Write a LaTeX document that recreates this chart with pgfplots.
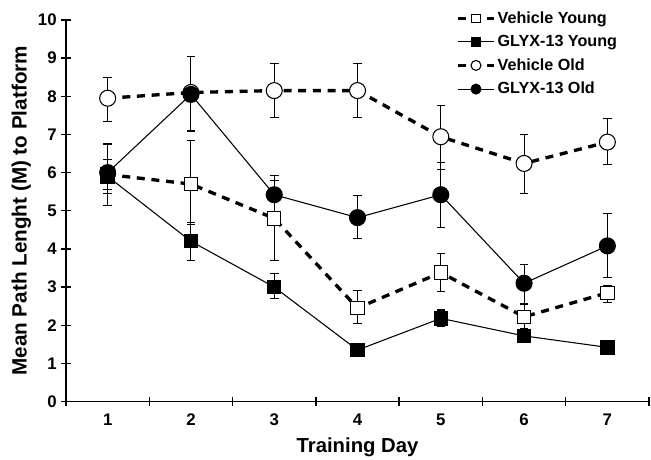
\documentclass[border=0pt]{standalone}
\usepackage{fontspec}
\setmainfont{Liberation Sans}
\usepackage{pgfplots}
\pgfplotsset{compat=1.18}
\usepackage{pgfplotstable}
\pgfplotstableread{
x y ep em
1 5.95 0.40 0.40
2 5.70 1.15 1.05
3 4.80 1.00 1.10
4 2.45 0.45 0.40
5 3.38 0.50 0.50
6 2.22 0.35 0.30
7 2.85 0.20 0.25
}\vehyoung
\pgfplotstableread{
x y ep em
1 5.90 0.45 0.45
2 4.20 0.50 0.50
3 3.00 0.35 0.30
4 1.35 0.05 0.05
5 2.18 0.22 0.22
6 1.72 0.18 0.18
7 1.42 0.05 0.05
}\glyxyoung
\pgfplotstableread{
x y ep em
1 7.95 0.55 0.60
2 8.10 0.95 1.00
3 8.15 0.70 0.70
4 8.15 0.70 0.70
5 6.94 0.82 0.85
6 6.24 0.76 0.78
7 6.80 0.62 0.58
}\vehold
\pgfplotstableread{
x y ep em
1 6.00 0.75 0.85
2 8.05 1.00 0.98
3 5.42 0.50 0.50
4 4.82 0.57 0.55
5 5.42 0.85 0.85
6 3.10 0.50 0.55
7 4.08 0.84 0.84
}\glyxold
\begin{document}
\begin{tikzpicture}
\begin{axis}[
  width=437pt, height=286pt, scale only axis,
  xmin=0.5, xmax=7.5, ymin=0, ymax=10,
  axis lines*=left,
  axis line style={line width=1pt},
  xtick={1,...,7},
  minor xtick={0.5,1.5,...,7.5},
  major x tick style={draw=none},
  minor tick length=7pt,
  ytick={0,1,...,10},
  major tick length=7pt,
  tick align=center,
  tick style={line width=1pt, black},
  ticklabel style={font=\fontsize{12.6}{14}\selectfont\bfseries},
  xticklabel style={yshift=-2pt},
  /pgf/number format/assume math mode=true,
  xlabel={\bfseries Training Day},
  ylabel={\bfseries Mean Path Lenght (M) to Platform},
  xlabel style={font=\fontsize{15.2}{17}\selectfont, at={(axis description cs:0.5,-0.119)}, anchor=center},
  ylabel style={font=\fontsize{15.5}{17}\selectfont, at={(axis description cs:-0.0765,0.5)}, anchor=center},
  clip=false,
  legend style={draw=none, fill=none, at={(0.669,1.028)}, anchor=north west,
    font=\fontsize{12.1}{14}\selectfont\bfseries, row sep=4.5pt, inner sep=0pt,
    legend cell align=left, nodes={inner sep=1.5pt}},
  legend image code/.code={
    \draw[mark repeat=2,mark phase=2, every mark/.append style={scale=0.62}] plot coordinates {(0pt,0pt) (13.5pt,0pt) (27pt,0pt)};
  },
  error bars/y dir=both, error bars/y explicit,
  error bars/error bar style={line width=0.8pt, black, solid},
  error bars/error mark options={rotate=90, mark size=3.2pt, line width=0.8pt, black, solid},
]
\addplot[black, line width=2.5pt, dash pattern=on 6pt off 5pt,
  mark=square*, mark size=5pt, mark options={solid, fill=white, line width=0.8pt}]
  table[x=x, y=y, y error plus=ep, y error minus=em] {\vehyoung};
\addlegendentry{Vehicle Young}
\addplot[black, line width=0.8pt,
  mark=square*, mark size=5pt, mark options={solid, fill=black, line width=0.8pt}]
  table[x=x, y=y, y error plus=ep, y error minus=em] {\glyxyoung};
\addlegendentry{GLYX-13 Young}
\addplot[black, line width=2.5pt, dash pattern=on 6pt off 5pt,
  mark=*, mark size=6pt, mark options={solid, fill=white, line width=0.8pt}]
  table[x=x, y=y, y error plus=ep, y error minus=em] {\vehold};
\addlegendentry{Vehicle Old}
\addplot[black, line width=0.8pt,
  mark=*, mark size=6pt, mark options={solid, fill=black, line width=0.8pt}]
  table[x=x, y=y, y error plus=ep, y error minus=em] {\glyxold};
\addlegendentry{GLYX-13 Old}
\coordinate (bl) at (rel axis cs:0,0);
\coordinate (tr) at (rel axis cs:1,1);
\end{axis}
\pgfresetboundingbox
\path[use as bounding box] ([xshift=-49.5pt, yshift=-43.5pt]bl) rectangle ([xshift=1.5pt, yshift=15pt]tr);
\end{tikzpicture}
\end{document}
